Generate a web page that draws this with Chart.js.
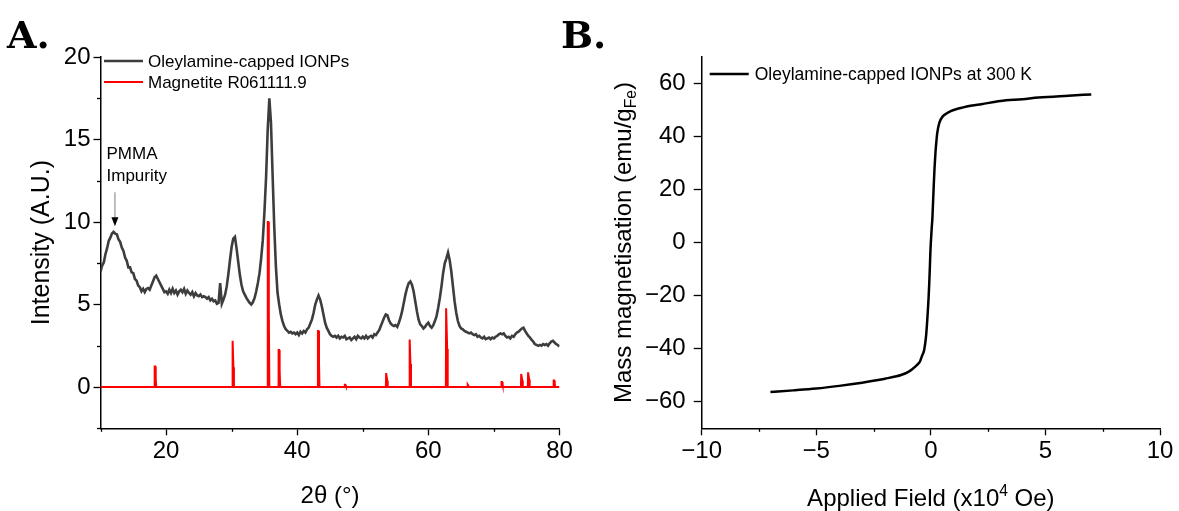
<!DOCTYPE html>
<html><head><meta charset="utf-8">
<script src="https://cdn.jsdelivr.net/npm/chart.js@4"></script>
<style>
html,body{margin:0;padding:0;background:#fff;width:1179px;height:511px;overflow:hidden;}
canvas{position:absolute;top:0;}
#cA{left:0;}
#cB{left:550px;}
</style></head><body>
<canvas id="cA" width="600" height="511"></canvas>
<canvas id="cB" width="629" height="511"></canvas>
<script>
// ---------------- DATA ----------------
// Panel A: XRD pattern of oleylamine-capped IONPs (2θ in degrees)
const xrdAngle = [
10,10.25,10.5,10.75,11,11.25,11.5,11.75,12,12.25,12.5,12.75,13,13.25,13.5,13.75,14,14.25,14.5,14.75,
15,15.25,15.5,15.75,16,16.25,16.5,16.75,17,17.25,17.5,17.75,18,18.25,18.5,18.75,19,19.25,19.5,19.75,
20,20.25,20.5,20.75,21,21.25,21.5,21.75,22,22.25,22.5,22.75,23,23.25,23.5,23.75,24,24.25,24.5,24.75,
25,25.25,25.5,25.75,26,26.25,26.5,26.75,27,27.25,27.5,27.75,28,28.25,28.5,28.75,29,29.25,29.5,29.75,
30,30.25,30.5,30.75,31,31.25,31.5,31.75,32,32.25,32.5,32.75,33,33.25,33.5,33.75,34,34.25,34.5,34.75,
35,35.25,35.5,35.75,36,36.25,36.5,36.75,37,37.25,37.5,37.75,38,38.25,38.5,38.75,39,39.25,39.5,39.75,
40,40.25,40.5,40.75,41,41.25,41.5,41.75,42,42.25,42.5,42.75,43,43.25,43.5,43.75,44,44.25,44.5,44.75,
45,45.25,45.5,45.75,46,46.25,46.5,46.75,47,47.25,47.5,47.75,48,48.25,48.5,48.75,49,49.25,49.5,49.75,
50,50.25,50.5,50.75,51,51.25,51.5,51.75,52,52.25,52.5,52.75,53,53.25,53.5,53.75,54,54.25,54.5,54.75,
55,55.25,55.5,55.75,56,56.25,56.5,56.75,57,57.25,57.5,57.75,58,58.25,58.5,58.75,59,59.25,59.5,59.75,
60,60.25,60.5,60.75,61,61.25,61.5,61.75,62,62.25,62.5,62.75,63,63.25,63.5,63.75,64,64.25,64.5,64.75,
65,65.25,65.5,65.75,66,66.25,66.5,66.75,67,67.25,67.5,67.75,68,68.25,68.5,68.75,69,69.25,69.5,69.75,
70,70.25,70.5,70.75,71,71.25,71.5,71.75,72,72.25,72.5,72.75,73,73.25,73.5,73.75,74,74.25,74.5,74.75,
75,75.25,75.5,75.75,76,76.25,76.5,76.75,77,77.25,77.5,77.75,78,78.25,78.5,78.75,79,79.25,79.5,79.75,
80];
const xrdIntensity = [
7.0,7.35,7.55,8.05,8.4,8.85,9.05,9.3,9.4,9.3,9.25,8.95,8.8,8.45,8.25,7.85,7.65,7.25,7.25,6.95,
6.9,6.55,6.45,6.15,6.05,5.8,5.95,5.75,5.95,6.0,5.9,6.15,6.4,6.65,6.75,6.55,6.35,6.15,5.95,5.75,
5.8,5.65,5.9,5.7,5.95,5.7,5.85,5.6,5.8,5.9,5.75,5.95,5.65,5.85,5.7,5.6,5.75,5.5,5.7,5.55,
5.5,5.6,5.45,5.5,5.45,5.35,5.45,5.25,5.35,5.2,5.25,5.05,5.1,6.3,5.05,5.3,5.6,6.1,6.85,7.7,
8.5,9.0,9.1,8.4,7.6,6.8,6.2,5.8,5.6,5.4,5.25,5.1,5.0,5.15,5.4,5.8,6.3,6.9,7.8,8.9,
10.6,12.7,15.6,17.5,16.0,12.8,9.7,7.3,5.7,5.0,4.4,4.0,3.7,3.5,3.4,3.3,3.35,3.25,3.3,3.2,
3.3,3.15,3.35,3.25,3.4,3.3,3.5,3.6,3.85,4.1,4.5,5.0,5.3,5.55,5.3,4.9,4.4,3.9,3.6,3.4,
3.2,3.1,3.05,3.1,3.0,3.1,2.95,3.05,3.0,3.1,2.9,2.95,3.0,2.85,2.95,3.05,2.9,3.1,3.0,2.95,
3.05,2.95,3.1,2.95,3.05,3.1,3.0,3.2,3.15,3.3,3.45,3.7,3.95,4.2,4.4,4.35,4.05,3.85,3.75,3.7,
3.75,3.65,3.9,4.2,4.6,5.1,5.6,6.0,6.3,6.4,6.2,5.8,5.2,4.6,4.1,3.8,3.7,3.55,3.65,3.8,
3.9,3.7,3.6,3.75,4.0,4.3,4.8,5.4,6.1,6.9,7.5,7.8,8.15,7.7,7.0,6.1,5.2,4.5,4.0,3.7,
3.55,3.5,3.4,3.35,3.3,3.25,3.3,3.2,3.15,3.2,3.05,3.1,3.0,2.95,3.05,2.9,2.95,3.0,2.9,3.0,
2.95,3.05,3.1,3.2,3.25,3.2,3.25,3.1,3.0,3.05,2.95,3.1,3.05,3.2,3.3,3.35,3.45,3.55,3.6,3.4,
3.25,3.1,3.0,2.85,2.75,2.6,2.55,2.5,2.55,2.5,2.6,2.55,2.6,2.5,2.65,2.75,2.8,2.7,2.6,2.55,
2.45];
// Reference pattern: Magnetite R061111.9 (stick-like peaks)
const refAngle = [
10,
18.22,18.26,18.34,18.42,18.5,
30.07,30.11,30.19,30.27,30.35,
35.47,35.51,35.59,35.67,35.75,
37.12,37.16,37.24,37.32,37.4,
43.12,43.16,43.24,43.32,43.4,
47.22,47.26,47.34,47.42,47.5,
53.52,53.56,53.64,53.72,53.8,
57.07,57.11,57.19,57.27,57.35,
62.67,62.71,62.79,62.87,62.95,
65.92,65.96,66.04,66.12,66.2,
71.12,71.16,71.24,71.32,71.4,
74.12,74.16,74.24,74.32,74.4,
75.17,75.21,75.29,75.37,75.45,
79.07,79.11,79.19,79.27,79.35,
80];
const refIntensity = [
0,
0,1.25,1.25,0.5,0,
0,2.8,2.8,1.2,0,
0,10.0,10.0,4.5,0,
0,2.25,2.25,1.0,0,
0,3.4,3.4,1.5,0,
0,0.14,0.14,0.06,0,
0,0.85,0.85,0.4,0,
0,2.88,2.88,1.4,0,
0,4.77,4.77,2.3,0,
0,0.15,0.15,0.07,0,
0,0.3,0.3,0.15,0,
0,0.79,0.79,0.4,0,
0,0.89,0.89,0.45,0,
0,0.4,0.4,0.2,0,
0];
const xrdSeriesNames = ['Oleylamine-capped IONPs', 'Magnetite R061111.9'];
const xrdXTicks = [20, 40, 60, 80];
const xrdXMinor = [10, 30, 50, 70];
const xrdYTicks = [0, 5, 10, 15, 20];
const xrdYMinor = [-2.5, 2.5, 7.5, 12.5, 17.5];

// Panel B: magnetisation curve (field in 10^4 Oe, emu/g_Fe)
const magField = [
-7.0,-6.0,-5.0,-4.0,-3.0,-2.3,-2.0,-1.5,-1.3,-1.0,-0.8,-0.6,-0.47,-0.38,-0.3,-0.25,-0.2,-0.16,-0.13,-0.1,-0.07,-0.04,-0.02,
0,0.03,0.07,0.1,0.13,0.16,0.2,0.24,0.28,0.37,0.53,0.7,0.87,1.1,1.37,1.8,2.2,3.03,4.0,4.7,6.0,7.0];
const magMoment = [
-56.3,-55.7,-55.0,-54.0,-52.8,-51.8,-51.3,-50.4,-49.9,-48.8,-47.6,-46.1,-44.7,-42.6,-40.8,-38.2,-34.4,-29.6,-25.5,-21.0,-15.3,-8.5,-3.5,
0,4.5,9.7,16.0,22.4,28.0,33.8,38.0,41.4,45.2,47.7,48.8,49.6,50.3,50.9,51.7,52.2,53.4,54.1,54.7,55.4,55.9];
const magSeriesName = 'Oleylamine-capped IONPs at 300 K';
const magXTicks = [-10, -5, 0, 5, 10];
const magXMinor = [-7.5, -2.5, 2.5, 7.5];
const magYTicks = [-60, -40, -20, 0, 20, 40, 60];

// ---------------- HELPERS ----------------
const SANS = '"Liberation Sans", Arial, sans-serif';
const AX = '#000000';
const FS = 24;

function xy(xs, ys) { return xs.map((x, i) => ({x: x, y: ys[i]})); }
function fmt(v) { return v < 0 ? '\u2212' + Math.abs(v) : String(v); }

const extras = {
  id: 'extras',
  afterDraw(chart, args, opts) {
    const ctx = chart.ctx;
    const xs = chart.scales.x, ys = chart.scales.y;
    ctx.save();
    ctx.strokeStyle = AX; ctx.lineWidth = 1.3;
    (opts.xMinor || []).forEach(v => {
      const p = Math.round(xs.getPixelForValue(v)) + 0.5;
      ctx.beginPath(); ctx.moveTo(p, xs.top); ctx.lineTo(p, xs.top + opts.minorLen); ctx.stroke();
    });
    (opts.yMinor || []).forEach(v => {
      const p = Math.round(ys.getPixelForValue(v)) + 0.5;
      ctx.beginPath(); ctx.moveTo(ys.right, p); ctx.lineTo(ys.right - opts.minorLen, p); ctx.stroke();
    });
    if (opts.legend) {
      const L = opts.legend;
      ctx.font = L.size + 'px ' + SANS;
      ctx.textBaseline = 'middle'; ctx.textAlign = 'left';
      chart.data.datasets.forEach((ds, i) => {
        const yy = chart.chartArea.top + L.top + i * L.gap;
        const x0 = chart.chartArea.left + L.left;
        ctx.strokeStyle = ds.borderColor; ctx.lineWidth = ds.borderWidth;
        ctx.beginPath(); ctx.moveTo(x0, yy); ctx.lineTo(x0 + L.lineLen, yy); ctx.stroke();
        ctx.fillStyle = '#000';
        ctx.fillText(ds.label, x0 + L.lineLen + L.textGap, yy + 1);
      });
    }
    if (opts.note) {
      const n = opts.note;
      const ax = xs.getPixelForValue(n.x);
      const yt = ys.getPixelForValue(n.tailY), yp = ys.getPixelForValue(n.tipY);
      ctx.strokeStyle = '#a8a8a8'; ctx.lineWidth = 1.5;
      ctx.beginPath(); ctx.moveTo(ax, yt); ctx.lineTo(ax, yp - 8); ctx.stroke();
      ctx.fillStyle = '#000';
      ctx.beginPath(); ctx.moveTo(ax - 3.5, yp - 9); ctx.lineTo(ax + 3.5, yp - 9); ctx.lineTo(ax, yp); ctx.closePath(); ctx.fill();
      ctx.font = n.size + 'px ' + SANS; ctx.textBaseline = 'middle'; ctx.textAlign = 'left';
      n.lines.forEach((t, i) => ctx.fillText(t, xs.getPixelForValue(n.textX), ys.getPixelForValue(n.lineY[i])));
    }
    if (opts.panel) {
      ctx.font = 'bold ' + opts.panel.size + 'px "DejaVu Serif", "Liberation Serif", serif';
      ctx.fillStyle = '#000'; ctx.textBaseline = 'alphabetic'; ctx.textAlign = 'left';
      ctx.fillText(opts.panel.text, opts.panel.x, opts.panel.y);
    }
    (opts.richTitles || []).forEach(rt => drawRich(ctx, rt));
    ctx.restore();
  }
};

function drawRich(ctx, rt) {
  ctx.save();
  ctx.translate(rt.x, rt.y);
  if (rt.rotate) ctx.rotate(-Math.PI / 2);
  let total = 0;
  const parts = rt.parts.map(p => {
    ctx.font = (rt.size * p.s) + 'px ' + SANS;
    const w = ctx.measureText(p.t).width; total += w;
    return {t: p.t, s: p.s, dy: p.dy, w: w};
  });
  let x = -total / 2;
  ctx.fillStyle = '#000'; ctx.textAlign = 'left'; ctx.textBaseline = 'alphabetic';
  const base = rt.size * 0.36;
  parts.forEach(p => {
    ctx.font = (rt.size * p.s) + 'px ' + SANS;
    ctx.fillText(p.t, x, base + p.dy * rt.size);
    x += p.w;
  });
  ctx.restore();
}

function axisCommon(ticksArr, fontSize, pad, tickLen) {
  return {
    type: 'linear',
    afterBuildTicks: s => { s.ticks = ticksArr.map(v => ({value: v})); },
    ticks: {font: {size: fontSize, family: SANS}, color: '#000', padding: pad, maxRotation: 0, autoSkip: false,
            callback: v => fmt(v)},
    grid: {display: true, drawOnChartArea: false, drawTicks: true, tickLength: tickLen, tickColor: AX, tickWidth: 1.3},
    border: {display: true, color: AX, width: 1.5}
  };
}

Chart.defaults.font.family = SANS;
Chart.defaults.animation = false;

// ---------------- PANEL A ----------------
const xA = axisCommon(xrdXTicks, FS, 2, 7);
Object.assign(xA, {min: 10, max: 80,
  title: {display: true, text: '2θ (°)', font: {size: FS, family: SANS}, color: '#000', padding: {top: 0, bottom: 0}},
  afterFit: s => { s.height = 82.7; }});
const yA = axisCommon(xrdYTicks, FS, 3, 7);
Object.assign(yA, {min: -2.5, max: 20,
  title: {display: true, text: 'Intensity (A.U.)', font: {size: 25, family: SANS}, color: '#000', padding: {top: 27, bottom: 0}},
  afterFit: s => { s.width = 100.5; }});

new Chart(document.getElementById('cA'), {
  type: 'line',
  data: {datasets: [
    {label: xrdSeriesNames[0], data: xy(xrdAngle, xrdIntensity), borderColor: '#3d3d3d', borderWidth: 2.6,
     pointRadius: 0, tension: 0, order: 1},
    {label: xrdSeriesNames[1], data: xy(refAngle, refIntensity), borderColor: '#ff0000', borderWidth: 2,
     pointRadius: 0, tension: 0, order: 0}
  ]},
  options: {
    responsive: false, animation: false,
    layout: {padding: {left: 0, top: 57, right: 40.5, bottom: 0}},
    scales: {x: xA, y: yA},
    plugins: {
      legend: {display: false}, tooltip: {enabled: false},
      extras: {
        minorLen: 3.5, xMinor: xrdXMinor, yMinor: xrdYMinor,
        legend: {left: 3.5, top: 4, gap: 21, lineLen: 39, textGap: 5, size: 17},
        note: {x: 12.2, tailY: 11.8, tipY: 9.75, textX: 10.92, lines: ['PMMA', 'Impurity'], lineY: [14.12, 12.8], size: 17},
        panel: {text: 'A.', x: 7, y: 48, size: 38}
      }
    }
  },
  plugins: [extras]
});

// ---------------- PANEL B ----------------
const xB = axisCommon(magXTicks, FS, 2, 7);
Object.assign(xB, {min: -10, max: 10, afterFit: s => { s.height = 82.7; }});
const yB = axisCommon(magYTicks, FS, 8, 8);
Object.assign(yB, {min: -70, max: 70, afterFit: s => { s.width = 151.7; }});

new Chart(document.getElementById('cB'), {
  type: 'line',
  data: {datasets: [
    {label: magSeriesName, data: xy(magField, magMoment), borderColor: '#000000', borderWidth: 2.5,
     pointRadius: 0, cubicInterpolationMode: 'monotone'}
  ]},
  options: {
    responsive: false, animation: false,
    layout: {padding: {left: 0, top: 57, right: 19, bottom: 0}},
    scales: {x: xB, y: yB},
    plugins: {
      legend: {display: false}, tooltip: {enabled: false},
      extras: {
        minorLen: 3.5, xMinor: magXMinor, yMinor: [],
        legend: {left: 8, top: 17, gap: 21, lineLen: 39, textGap: 6, size: 17.5},
        panel: {text: 'B.', x: 11, y: 48, size: 38},
        richTitles: [
          {x: 72, y: 242.6, rotate: true, size: FS, parts: [
            {t: 'Mass magnetisation (emu/g', s: 1, dy: 0}, {t: 'Fe', s: 0.65, dy: 0.22}, {t: ')', s: 1, dy: 0}]},
          {x: 380.85, y: 497, rotate: false, size: FS, parts: [
            {t: 'Applied Field (x10', s: 1, dy: 0}, {t: '4', s: 0.65, dy: -0.42}, {t: ' Oe)', s: 1, dy: 0}]}
        ]
      }
    }
  },
  plugins: [extras]
});
</script>
</body></html>
